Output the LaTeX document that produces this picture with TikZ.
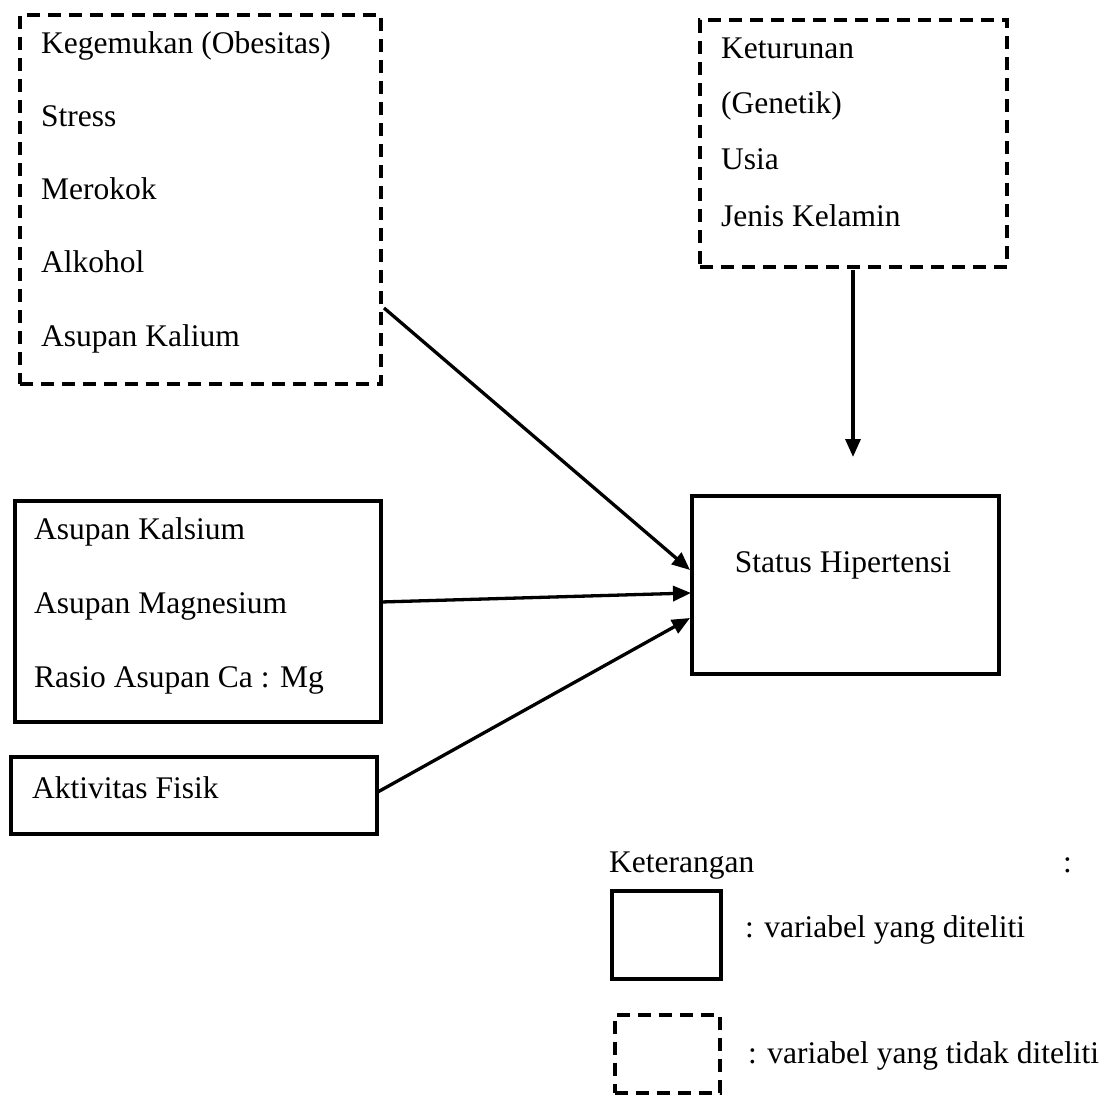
\documentclass[tikz,border=0pt]{standalone}
\usepackage{fontspec}
\setmainfont{Liberation Serif}
\usetikzlibrary{arrows.meta}
\tikzset{
  solidbox/.style={draw, line width=3.6pt, anchor=north west, inner sep=0pt},
  dashbox/.style={draw, line width=3.6pt, dash pattern=on 13pt off 8pt, anchor=north west, inner sep=0pt},
  lbl/.style={anchor=base west, inner sep=0pt, font=\fontsize{31.5}{36}\selectfont},
  conn/.style={line width=3.3pt, -{Triangle[length=18pt,width=15pt]}}
}
\begin{document}
\begin{tikzpicture}[x=1pt,y=-1pt]
\useasboundingbox (0,0) rectangle (1114,1099);
% boxes
\node[dashbox, minimum width=361pt, minimum height=369pt] (b1) at (18,13) {};
\node[dashbox, minimum width=307pt, minimum height=247pt] (b2) at (698,18) {};
\node[solidbox, minimum width=307pt, minimum height=178pt] (st) at (690,494) {};
\node[solidbox, minimum width=366pt, minimum height=221pt] (b3) at (13,499) {};
\node[solidbox, minimum width=366pt, minimum height=77pt] (b4) at (9,755) {};
% texts box1
\node[lbl] (t11) at (41,54) {Kegemukan (Obesitas)};
\node[lbl] (t12) at (41,127) {Stress};
\node[lbl] (t13) at (41,200) {Merokok};
\node[lbl] (t14) at (41,273) {Alkohol};
\node[lbl] (t15) at (41,347) {Asupan Kalium};
% texts box2
\node[lbl] (t21) at (721,59) {Keturunan};
\node[lbl] (t22) at (721,114) {(Genetik)};
\node[lbl] (t23) at (721,170) {Usia};
\node[lbl] (t24) at (721,227) {Jenis Kelamin};
% status
\node[lbl, anchor=base] (tst) at (843,572) {Status Hipertensi};
% box3
\node[lbl] (t31) at (34,539) {Asupan Kalsium};
\node[lbl] (t32) at (34,613) {Asupan Magnesium};
\node[lbl] (t33) at (34,687) {Rasio Asupan Ca : Mg};
% box4
\node[lbl] (t41) at (32,798) {Aktivitas Fisik};
% connectors
\coordinate (s1) at (384,308);
\coordinate (e1) at (690,570);
\coordinate (s2) at (381,602);
\coordinate (e2) at (691,593);
\coordinate (s3) at (376,793);
\coordinate (e3) at (690,618);
\coordinate (dtip) at (853,457);
\coordinate (dstart) at (853,270);
\draw[conn] (s1) -- (e1);
\draw[conn] (s2) -- (e2);
\draw[conn] (s3) -- (e3);
\draw[conn] (dstart) -- (dtip);
% legend
\node[lbl] (ket) at (609,872) {Keterangan};
\node[lbl] (kc) at (1063,872) {:};
\node[solidbox, minimum width=109pt, minimum height=88pt] (ls) at (610,889) {};
\node[lbl] (ls1) at (745,937) {: variabel yang diteliti};
\node[dashbox, minimum width=105pt, minimum height=78pt] (ld) at (613,1013) {};
\node[lbl] (ld1) at (748,1063) {: variabel yang tidak diteliti};
\end{tikzpicture}
\end{document}
